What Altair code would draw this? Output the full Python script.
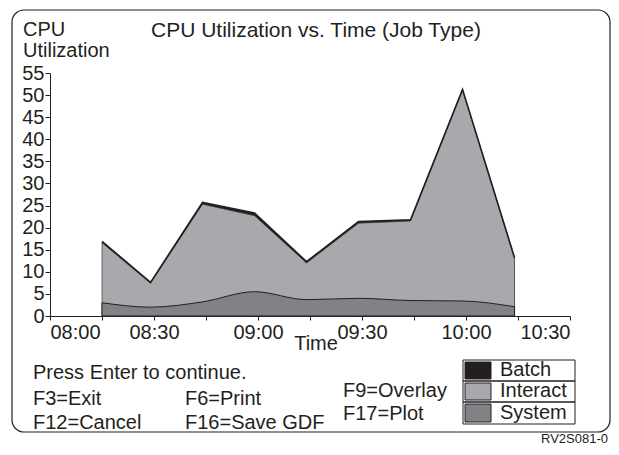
import altair as alt
import pandas as pd

# ---- data ----
times = ["08:15", "08:29", "08:44", "08:59", "09:14", "09:29", "09:44", "09:59", "10:14"]
batch = [0.3, 0.2, 0.4, 0.6, 0.3, 0.4, 0.3, 0.2, 0.1]
interact = [13.6, 5.4, 22.1, 17.2, 8.3, 17.0, 18.0, 47.7, 11.0]
system = [3.0, 2.0, 3.2, 5.5, 3.7, 4.0, 3.5, 3.4, 2.1]

series_names = ["Batch", "Interact", "System"]
series_colors = ["#231f20", "#a7a9ac", "#808285"]
x_tick_minutes = list(range(0, 151, 15))
y_ticks = list(range(0, 56, 5))

FONT = "Liberation Sans"
INK = "#231f20"

def to_min(t):
    h, m = t.split(":")
    return (int(h) - 8) * 60 + int(m)

df = pd.DataFrame({
    "min": [to_min(t) for t in times],
    "system": system,
})
df["sysint"] = [s + i for s, i in zip(system, interact)]
df["total"] = [s + i + b for s, i, b in zip(system, interact, batch)]

xscale = alt.Scale(domain=[0, 150], nice=False)
yscale = alt.Scale(domain=[0, 55], nice=False)

xaxis = alt.Axis(
    values=x_tick_minutes, title=None, grid=False, tickSize=4, labelPadding=2,
    labelExpr="datum.value % 30 == 0 ? (format(8 + floor(datum.value / 60), '02d') + ':' + format(datum.value % 60, '02d')) : ''",
    labelFont=FONT, labelFontSize=20, labelColor=INK, domainColor=INK, tickColor=INK,
    labelOverlap=False,
)
yaxis = alt.Axis(
    values=y_ticks, tickCount=12, title=None, grid=False, tickSize=5, labelPadding=1,
    labelFont=FONT, labelFontSize=20, labelColor=INK, domainColor=INK, tickColor=INK,
    labelOverlap=False,
)

base = alt.Chart(df)
X = alt.X("min:Q", scale=xscale, axis=xaxis)

def Y(field):
    return alt.Y(f"{field}:Q", scale=yscale, axis=yaxis, stack=None)

total_area = base.mark_area(color=series_colors[0]).encode(x=X, y=Y("total"))
int_area = base.mark_area(color=series_colors[1], stroke="#3a3a3a", strokeWidth=0.7).encode(x=X, y=Y("sysint"))
top_line = base.mark_line(color=INK, strokeWidth=1.6).encode(x=X, y=Y("total"))
sys_area = base.mark_area(color=series_colors[2], stroke=INK, strokeWidth=1, interpolate="monotone").encode(x=X, y=Y("system"))

dummy = alt.Data(values=[{}])

def txt(s, x, y, size=20, align="left", baseline="alphabetic"):
    return alt.Chart(dummy).mark_text(
        text=s, align=align, baseline=baseline, font=FONT, fontSize=size, color=INK
    ).encode(x=alt.value(x), y=alt.value(y))

def box(x1, x2, y1, y2, fill="white", fo=0, sw=1.0, r=0):
    return alt.Chart(dummy).mark_rect(
        fill=fill, fillOpacity=fo, stroke=INK, strokeWidth=sw, cornerRadius=r
    ).encode(x=alt.value(x1), x2=alt.value(x2), y=alt.value(y1), y2=alt.value(y2))

layers = [total_area, int_area, top_line, sys_area]

# frame
layers.append(box(-38, 560, -63, 359, sw=1.2, r=12))

# texts
layers += [
    txt("CPU", -27, -37),
    txt("Utilization", -27, -16),
    txt("CPU Utilization vs. Time (Job Type)", 101, -36, size=21),
    txt("Time", 266, 277, align="center"),
    txt("Press Enter to continue.", -17, 306),
    txt("F3=Exit", -17, 332),
    txt("F12=Cancel", -17, 356),
    txt("F6=Print", 135, 332),
    txt("F16=Save GDF", 135, 356),
    txt("F9=Overlay", 293, 324),
    txt("F17=Plot", 293, 347),
    txt("RV2S081-0", 558, 373, size=13, align="right", baseline="bottom"),
]

# legend
row_y = [287, 308, 329, 351]
for k, (name, col) in enumerate(zip(series_names, series_colors)):
    y1, y2 = row_y[k], row_y[k + 1]
    layers.append(box(413, 525, y1, y2, sw=1.0))
    layers.append(box(415, 441, y1 + 2, y2 - 2, fill=col, fo=1, sw=1.0))
    layers.append(txt(name, 450, y2 - 5, size=20))

chart = alt.layer(*layers).properties(
    width=520, height=243,
    autosize=alt.AutoSizeParams(type="none"),
    padding={"left": 42, "top": 65, "right": 41, "bottom": 131},
    background="white",
).configure_view(stroke=None)

chart.save("out.html", embed_options={"renderer": "svg", "actions": False})
